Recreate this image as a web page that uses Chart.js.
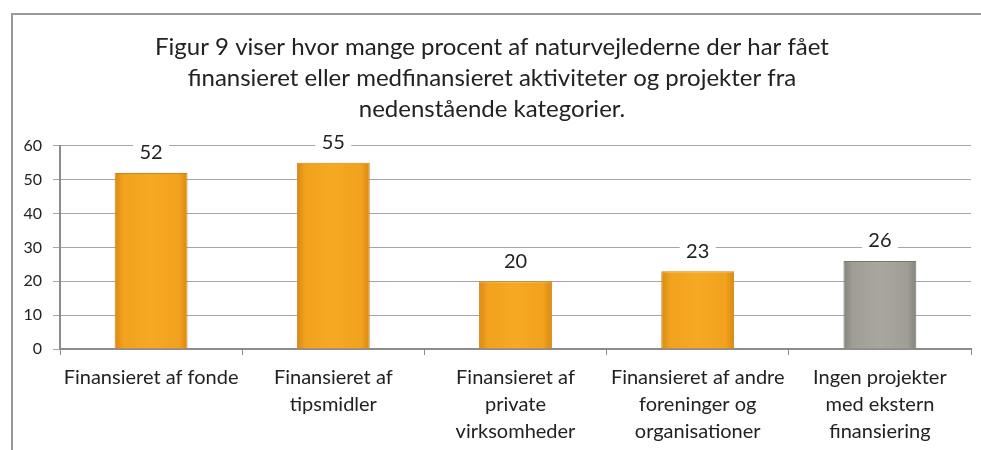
<!DOCTYPE html>
<html>
<head>
<meta charset="utf-8">
<script src="https://cdn.jsdelivr.net/npm/chart.js@4.4.1/dist/chart.umd.min.js"></script>
<style>
  html, body { margin: 0; padding: 0; background: #fff; }
  #frame { position: absolute; left: 11px; top: 13px; width: 970px; height: 437px;
           border-top: 2px solid #9a9a9a; border-left: 2px solid #9a9a9a; }
  #chart { display: block; }
</style>
</head>
<body>
<div id="frame"><canvas id="chart" width="968" height="435"></canvas></div>
<script>
const categories = [
  ['Finansieret af fonde'],
  ['Finansieret af', 'tipsmidler'],
  ['Finansieret af', 'private', 'virksomheder'],
  ['Finansieret af andre', 'foreninger og', 'organisationer'],
  ['Ingen projekter', 'med ekstern', 'finansiering']
];
const percentages = [52, 55, 20, 23, 26];
const yTicks = [0, 10, 20, 30, 40, 50, 60];
const titleLines = [
  'Figur 9 viser hvor mange procent af naturvejlederne der har fået',
  'finansieret eller medfinansieret aktiviteter og projekter fra',
  'nedenstående kategorier.'
];

const FONT = 'Lato, "Open Sans", sans-serif';

function barFill(context) {
  const chart = context.chart;
  const grey = context.dataIndex === 4;
  if (!chart.chartArea) return grey ? '#a5a29b' : '#f5a620';
  const x = chart.scales.x;
  const c = x.getPixelForValue(context.dataIndex);
  const half = x.width / categories.length * 0.4 / 2;
  const g = chart.ctx.createLinearGradient(c - half, 0, c + half, 0);
  if (grey) {
    g.addColorStop(0, '#85827b');
    g.addColorStop(0.12, '#a09d96');
    g.addColorStop(0.5, '#aaa7a0');
    g.addColorStop(0.88, '#a09d96');
    g.addColorStop(1, '#85827b');
  } else {
    g.addColorStop(0, '#d88a12');
    g.addColorStop(0.12, '#f2a21e');
    g.addColorStop(0.5, '#f6a922');
    g.addColorStop(0.88, '#f2a21e');
    g.addColorStop(1, '#d88a12');
  }
  return g;
}

// value labels above bars, on a white box that cuts the gridline
const valueLabels = {
  id: 'valueLabels',
  afterDatasetsDraw(chart) {
    const ctx = chart.ctx;
    const meta = chart.getDatasetMeta(0);
    ctx.save();
    ctx.font = '20px ' + FONT;
    ctx.textAlign = 'center';
    ctx.textBaseline = 'middle';
    meta.data.forEach((bar, i) => {
      const y = bar.y - 21;
      ctx.fillStyle = '#fff';
      ctx.fillRect(bar.x - 18, y - 11, 36, 22);
      ctx.fillStyle = '#222';
      ctx.fillText(String(percentages[i]), bar.x, y + 1);
    });
    ctx.restore();
  }
};

new Chart(document.getElementById('chart'), {
  type: 'bar',
  data: {
    labels: categories,
    datasets: [{
      data: percentages,
      backgroundColor: barFill,
      borderColor: (c) => c.dataIndex === 4 ? '#7a776f' : '#cf8410',
      borderWidth: 1,
      barPercentage: 0.4,
      categoryPercentage: 1
    }]
  },
  options: {
    responsive: false,
    animation: false,
    layout: { padding: { left: 0, right: 10, top: 0, bottom: 0 } },
    plugins: {
      legend: { display: false },
      tooltip: { enabled: false },
      title: {
        display: true,
        text: titleLines,
        color: '#222',
        font: { family: FONT, size: 24, weight: 'normal', lineHeight: 1.29 },
        padding: { top: 17, bottom: 21 }
      }
    },
    scales: {
      x: {
        grid: { drawOnChartArea: false, offset: true, tickLength: 6, color: '#8c8c8c' },
        border: { color: '#8c8c8c', width: 2 },
        ticks: {
          color: '#222',
          font: { family: FONT, size: 20, lineHeight: 1.35 },
          padding: 9,
          maxRotation: 0,
          autoSkip: false
        },
        afterFit(scale) { scale.height = 101; }
      },
      y: {
        min: 0,
        max: 60,
        afterBuildTicks(scale) { scale.ticks = yTicks.map(v => ({ value: v })); },
        grid: { color: '#a6a6a6', lineWidth: 1, tickLength: 7 },
        border: { color: '#8c8c8c', width: 2 },
        ticks: {
          color: '#222',
          font: { family: FONT, size: 16 },
          padding: 11
        },
        afterFit(scale) { scale.width = 47; }
      }
    }
  },
  plugins: [valueLabels]
});
</script>
</body>
</html>
